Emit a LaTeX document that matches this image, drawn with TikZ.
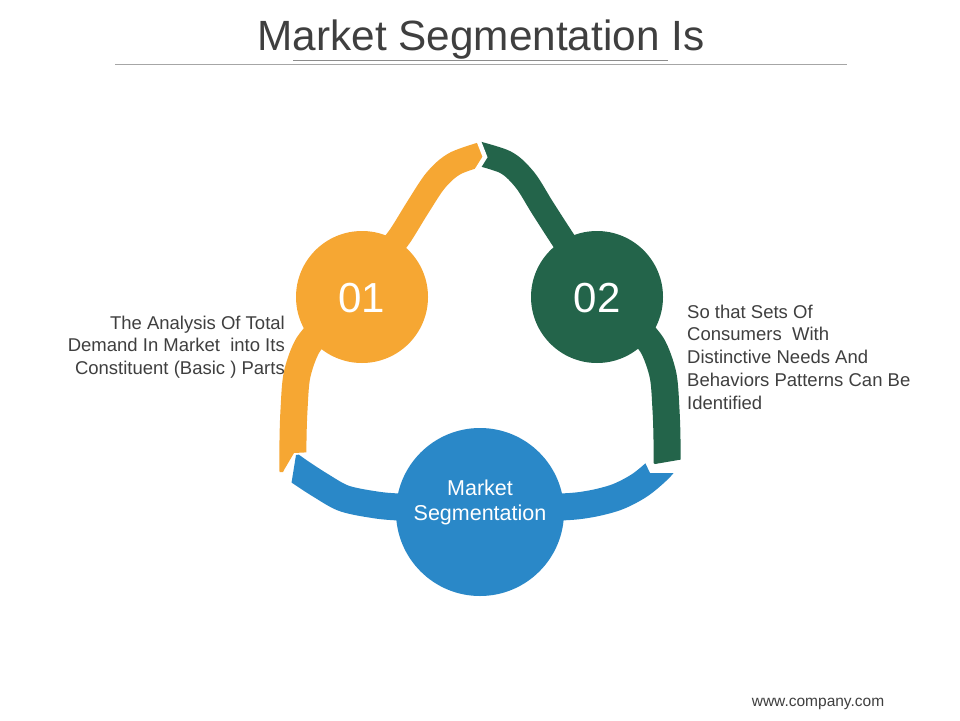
\documentclass[tikz,border=0pt]{standalone}
\usepackage{fontspec}
\setmainfont{Liberation Sans}
\definecolor{orng}{HTML}{F6A733}
\definecolor{grn}{HTML}{23644A}
\definecolor{blu}{HTML}{2A88C8}
\definecolor{txt}{HTML}{3F3F3F}
\begin{document}
\begin{tikzpicture}[x=1pt,y=-1pt,
  band/.style={line width=#1, line cap=butt},
  gap/.style={white, line width=4.5pt, line join=miter},
  num/.style={text=white, font=\fontsize{42}{42}\selectfont, anchor=base},
  desc/.style={text=txt, font=\fontsize{18.5}{22.8}\selectfont, inner sep=0pt}]
\useasboundingbox[fill=white] (0,0) rectangle (960,720);
% title
\node[text=txt, font=\fontsize{42.3}{43}\selectfont, anchor=base] (title) at (481,50) {Market Segmentation Is};
\coordinate (l1) at (115,64); \coordinate (l2) at (847,64);
\coordinate (s1) at (293,60); \coordinate (s2) at (668,60);
\draw[gray!70, line width=0.8pt] (l1) -- (l2);
\draw[gray!90, line width=0.8pt] (s1) -- (s2);
% orange band
\begin{scope}
\clip (200,100) -- (476,100) -- (476,136) -- (485,157) -- (476,171) -- (400,420) -- (314,452) -- (294,453) -- (284,470) -- (275,490) -- (200,490) -- cycle;
\draw[orng, band=24pt] plot[smooth] coordinates {(385,255) (400,236) (418,207) (436,180) (456,163) (495,150)};
\draw[orng, band=27pt] plot[smooth] coordinates {(330,320) (308,345) (297,375) (294,410) (293,440) (293,472)};
\end{scope}
% green band
\begin{scope}
\clip (476,100) -- (476,136) -- (485,157) -- (476,171) -- (600,430) -- (655,464) -- (690,458) -- (760,458) -- (760,100) -- cycle;
\draw[grn, band=24pt] plot[smooth] coordinates {(465,150) (505,162) (525,180) (542,207) (560,235) (580,265)};
\draw[grn, band=27pt] plot[smooth] coordinates {(630,320) (652,345) (663,375) (666,410) (667,440) (667,480)};
\end{scope}
% blue band
\begin{scope}
\clip (291,486) -- (296,455) -- (480,430) -- (640,452) -- (650,473) -- (700,473) -- (700,620) -- (240,620) -- (240,486) -- cycle;
\draw[blu, band=27pt] plot[smooth] coordinates {(286,462) (300,472) (320,485) (343,498) (370,504) (400,507) (480,508) (560,507) (590,504) (617,497) (640,485) (660,468) (674,450)};
\end{scope}
% gap at the top junction
\draw[gap] (476,134) -- (485,157) -- (475,173);
% circles
\node[circle, fill=orng, minimum size=132pt, inner sep=0pt] (c1) at (362,297) {};
\node[circle, fill=grn, minimum size=132pt, inner sep=0pt] (c2) at (597,297) {};
\node[circle, fill=blu, minimum size=168pt, inner sep=0pt] (c3) at (480,512) {};
\node[num] (n1) at (362,312) {01};
\node[num] (n2) at (597,312) {02};
\node[text=white, font=\fontsize{21.5}{25}\selectfont, align=center, anchor=north, inner sep=0pt] (ms) at (480,479.5) {Market\\Segmentation};
% descriptions
\node[desc, align=right, anchor=north east] (left) at (285,315.5) {The Analysis Of Total\\Demand In Market\ \ into Its\\Constituent (Basic ) Parts};
\node[desc, align=left, anchor=north west] (right) at (687,304.5) {So that Sets Of\\Consumers\ \ With\\Distinctive Needs And\\Behaviors Patterns Can Be\\Identified};
\node[text=txt, font=\fontsize{15.5}{15.5}\selectfont, anchor=base] (web) at (818,706) {www.company.com};
\end{tikzpicture}
\end{document}
